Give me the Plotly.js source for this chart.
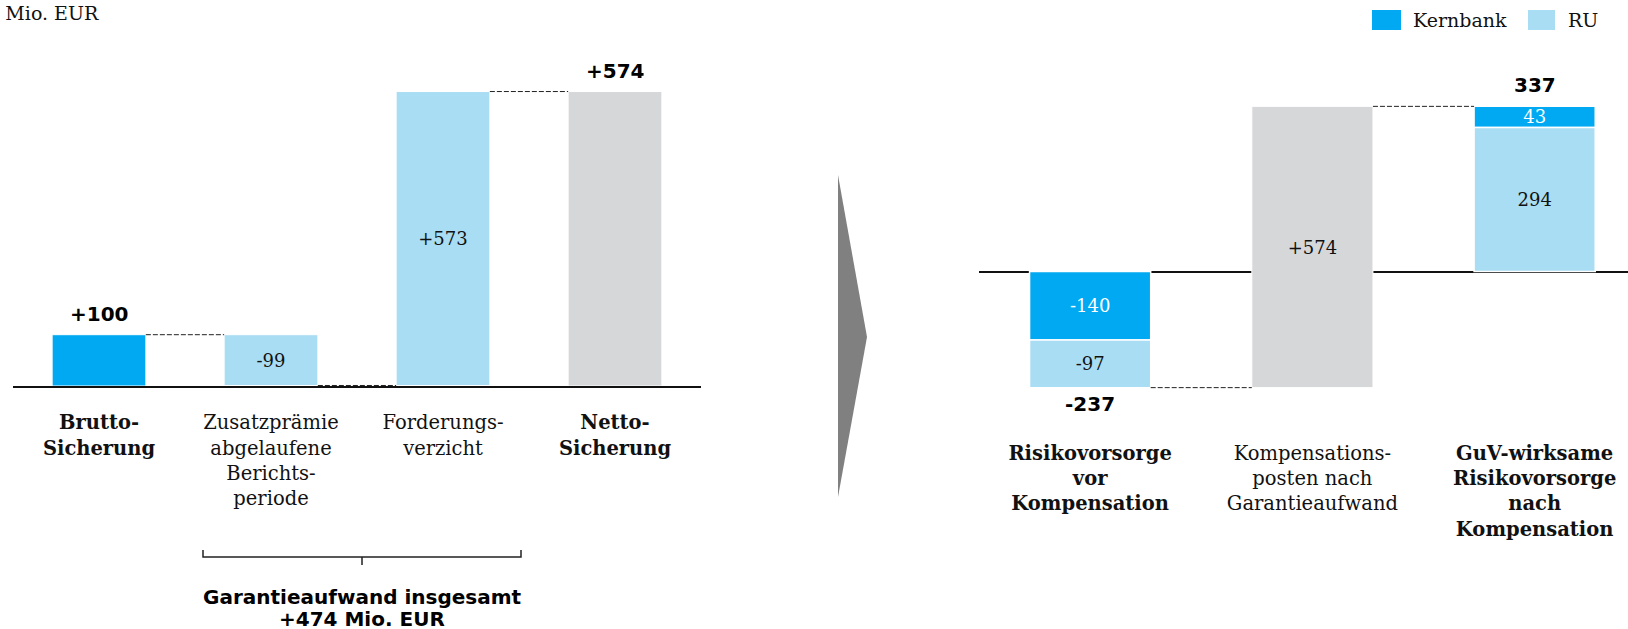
<!DOCTYPE html>
<html>
<head>
<meta charset="utf-8">
<script src="https://cdn.plot.ly/plotly-3.0.1.min.js"></script>
<style>html,body{margin:0;padding:0;background:#fff;}#chart{width:1628px;height:629px;}</style>
</head>
<body>
<div id="chart"></div>
<script>
// ---------- data ----------
const leftCats = ['<b>Brutto-<br>Sicherung</b>', 'Zusatzprämie<br>abgelaufene<br>Berichts-<br>periode', 'Forderungs-<br>verzicht', '<b>Netto-<br>Sicherung</b>'];
const leftValues = [100, -99, 573, 574];
const leftKinds = ['absolute', 'relative', 'relative', 'total'];

const rightCats = ['<b>Risikovorsorge<br>vor<br>Kompensation</b>', 'Kompensations-<br>posten nach<br>Garantieaufwand', '<b>GuV-wirksame<br>Risikovorsorge<br>nach<br>Kompensation</b>'];
const kernbank = [-140, null, 43];
const ru = [-97, null, 294];
const compensation = [null, 574, null];

const unitLabel = 'in Mio. EUR';
const bracketLabel = 'Garantieaufwand insgesamt';
const seriesNames = ['Kernbank', 'RU'];

// ---------- styles ----------
const C_KERN = '#00A9F1';
const C_RU = '#A9DDF3';
const C_GRAY = '#D6D7D9';
const SERIF = 'DejaVu Serif, serif';
const SANS = 'DejaVu Sans, sans-serif';
const W = 1628, H = 629;
const px = v => v / W;
const py = v => 1 - v / H;
const BW = 0.545;
const sign = v => (v > 0 ? '+' : '') + v;

// ---------- left waterfall computation ----------
let run = 0;
const lBase = [], lHeight = [], lColor = [], lText = [];
leftValues.forEach((v, i) => {
  const k = leftKinds[i];
  if (k === 'absolute') { lBase.push(0); lHeight.push(v); run = v; lColor.push(C_KERN); lText.push(''); }
  else if (k === 'relative') { lBase.push(run); lHeight.push(v); run += v; lColor.push(C_RU); lText.push(sign(v)); }
  else { lBase.push(0); lHeight.push(run); lColor.push(C_GRAY); lText.push(''); }
});
const lTops = lBase.map((b, i) => Math.max(b, b + lHeight[i]));
const lLevels = lBase.map((b, i) => leftKinds[i] === 'total' ? lHeight[i] : b + lHeight[i]);

// ---------- right computation ----------
const kBase = [], rBase = [];
kernbank.forEach((kv, i) => {
  const rv = ru[i];
  if (kv === null) { kBase.push(null); rBase.push(null); return; }
  if (kv < 0) { kBase.push(0); rBase.push(kv); }
  else { rBase.push(0); kBase.push(rv); }
});
const rTotals = kernbank.map((kv, i) => kv === null ? null : kv + ru[i]);
const compBase = compensation.map((c, i) => c === null ? null : rTotals[i - 1]);
const compTop = compensation.map((c, i) => c === null ? null : rTotals[i - 1] + c);

function pick(arr, cats) {
  const xs = [], ys = [];
  arr.forEach((v, i) => { if (v !== null) { xs.push(cats[i]); ys.push(v); } });
  return [xs, ys];
}
const [kx, ky] = pick(kernbank, rightCats);
const [rx, ry] = pick(ru, rightCats);
const [cx, cy] = pick(compensation, rightCats);

const traces = [
  {
    type: 'bar', x: leftCats, y: lHeight, base: lBase, width: BW,
    marker: { color: lColor, line: { color: '#fff', width: 1 } },
    text: lText, textposition: 'inside', insidetextanchor: 'middle', constraintext: 'none',
    textfont: { family: SERIF, size: 18, color: '#111' },
    xaxis: 'x', yaxis: 'y', showlegend: false, hoverinfo: 'skip'
  },
  {
    type: 'bar', name: seriesNames[0], x: kx, y: ky, base: kBase.filter(v => v !== null), width: BW,
    marker: { color: C_KERN, line: { color: '#fff', width: 1.5 } },
    text: ky.map(String), textposition: 'inside', insidetextanchor: 'middle', constraintext: 'none',
    textfont: { family: SERIF, size: 18, color: '#fff' },
    xaxis: 'x2', yaxis: 'y2', showlegend: false, hoverinfo: 'skip'
  },
  {
    type: 'bar', name: seriesNames[1], x: rx, y: ry, base: rBase.filter(v => v !== null), width: BW,
    marker: { color: C_RU, line: { color: '#fff', width: 1.5 } },
    text: ry.map(String), textposition: 'inside', insidetextanchor: 'middle', constraintext: 'none',
    textfont: { family: SERIF, size: 18, color: '#111' },
    xaxis: 'x2', yaxis: 'y2', showlegend: false, hoverinfo: 'skip'
  },
  {
    type: 'bar', x: cx, y: cy, base: compBase.filter(v => v !== null), width: BW,
    marker: { color: C_GRAY, line: { color: '#fff', width: 1 } },
    text: cy.map(sign), textposition: 'inside', insidetextanchor: 'middle', constraintext: 'none',
    textfont: { family: SERIF, size: 18, color: '#111' },
    xaxis: 'x2', yaxis: 'y2', showlegend: false, hoverinfo: 'skip'
  }
];

// ---------- shapes ----------
const dash = { color: '#222', width: 1, dash: '5px,2px' };
const shapes = [];
for (let i = 0; i < leftCats.length - 1; i++) {
  shapes.push({ type: 'line', xref: 'x', yref: 'y', x0: i + BW / 2, x1: i + 1 - BW / 2, y0: lLevels[i], y1: lLevels[i], line: dash });
}
shapes.push({ type: 'line', xref: 'x2', yref: 'y2', x0: BW / 2, x1: 1 - BW / 2, y0: rTotals[0], y1: rTotals[0], line: dash });
shapes.push({ type: 'line', xref: 'x2', yref: 'y2', x0: 1 + BW / 2, x1: 2 - BW / 2, y0: compTop[1], y1: compTop[1], line: dash });
// arrow
shapes.push({ type: 'path', xref: 'paper', yref: 'paper',
  path: `M ${px(838)} ${py(175)} L ${px(867)} ${py(337)} L ${px(838)} ${py(497)} Z`,
  fillcolor: '#808080', line: { width: 0 } });
// bracket
shapes.push({ type: 'path', xref: 'paper', yref: 'paper',
  path: `M ${px(203)} ${py(550)} L ${px(203)} ${py(557)} L ${px(521)} ${py(557)} L ${px(521)} ${py(550)} M ${px(362)} ${py(557)} L ${px(362)} ${py(565)}`,
  line: { color: '#222', width: 1.5 } });
// legend swatches
shapes.push({ type: 'rect', xref: 'paper', yref: 'paper', x0: px(1372), x1: px(1401), y0: py(10), y1: py(30), fillcolor: C_KERN, line: { width: 0 } });
shapes.push({ type: 'rect', xref: 'paper', yref: 'paper', x0: px(1528), x1: px(1555), y0: py(10), y1: py(30), fillcolor: C_RU, line: { width: 0 } });

// ---------- annotations ----------
const boldFont = { family: SANS, size: 20, color: '#000' };
const annotations = [];
leftKinds.forEach((k, i) => {
  if (k !== 'relative') {
    annotations.push({ xref: 'x', yref: 'y', x: leftCats[i], y: lTops[i], text: '<b>' + sign(lHeight[i]) + '</b>',
      showarrow: false, yanchor: 'bottom', yshift: 7, font: boldFont });
  }
});
annotations.push({ xref: 'x2', yref: 'y2', x: rightCats[0], y: rTotals[0], text: '<b>' + rTotals[0] + '</b>',
  showarrow: false, yanchor: 'top', yshift: -2, font: boldFont });
annotations.push({ xref: 'x2', yref: 'y2', x: rightCats[2], y: rTotals[2], text: '<b>' + rTotals[2] + '</b>',
  showarrow: false, yanchor: 'bottom', yshift: 7, font: boldFont });
// unit label
annotations.push({ xref: 'paper', yref: 'paper', x: px(101), y: py(13), xanchor: 'right', yanchor: 'middle',
  text: unitLabel, showarrow: false, font: { family: SERIF, size: 19, color: '#111' } });
// legend text
annotations.push({ xref: 'paper', yref: 'paper', x: px(1411), y: py(20), xanchor: 'left', yanchor: 'middle',
  text: seriesNames[0], showarrow: false, font: { family: SERIF, size: 19, color: '#111' } });
annotations.push({ xref: 'paper', yref: 'paper', x: px(1566), y: py(20), xanchor: 'left', yanchor: 'middle',
  text: seriesNames[1], showarrow: false, font: { family: SERIF, size: 19, color: '#111' } });
// bracket text
const guaranteeSum = leftValues.filter((v, i) => leftKinds[i] === 'relative').reduce((a, b) => a + b, 0);
annotations.push({ xref: 'paper', yref: 'paper', x: px(362), y: py(597), xanchor: 'center', yanchor: 'middle', height: 22,
  text: '<b>' + bracketLabel + '</b>', showarrow: false, font: boldFont });
annotations.push({ xref: 'paper', yref: 'paper', x: px(362), y: py(618.5), xanchor: 'center', yanchor: 'middle', height: 21,
  text: '<b>' + sign(guaranteeSum) + ' Mio. EUR</b>', showarrow: false, font: boldFont });

// ---------- layout ----------
const leftZero = 386, leftScale = 0.513, topPx = 40;
const rightZero = 271.5, rightScale = 0.49, rightBottomPx = 400;
const layout = {
  width: W, height: H,
  margin: { l: 0, r: 0, t: 0, b: 0 },
  paper_bgcolor: '#fff', plot_bgcolor: 'rgba(0,0,0,0)',
  barmode: 'overlay',
  showlegend: false,
  xaxis: {
    domain: [px(13), px(701)], anchor: 'y', type: 'category', range: [-0.5, 3.5],
    categoryorder: 'array', categoryarray: leftCats,
    showline: true, linecolor: '#111', linewidth: 2, ticks: '', showgrid: false,
    ticklabelstandoff: 18, tickfont: { family: SERIF, size: 19.5, color: '#111' }, fixedrange: true
  },
  yaxis: {
    domain: [py(leftZero), py(topPx)], anchor: 'x', range: [0, (leftZero - topPx) / leftScale],
    visible: false, showgrid: false, zeroline: false, fixedrange: true
  },
  xaxis2: {
    domain: [px(979), 1], anchor: 'y2', type: 'category', range: [-0.5, 2.42],
    categoryorder: 'array', categoryarray: rightCats,
    showline: false, ticks: '', showgrid: false,
    ticklabelstandoff: 39, tickfont: { family: SERIF, size: 19.5, color: '#111' }, fixedrange: true
  },
  yaxis2: {
    domain: [py(rightBottomPx), py(topPx)], anchor: 'x2',
    range: [-(rightBottomPx - rightZero) / rightScale, (rightZero - topPx) / rightScale],
    showticklabels: false, ticks: '', showgrid: false, showline: false,
    zeroline: true, zerolinecolor: '#111', zerolinewidth: 2, fixedrange: true
  },
  shapes: shapes,
  annotations: annotations
};

Plotly.newPlot('chart', traces, layout, { displayModeBar: false, staticPlot: true });
</script>
</body>
</html>
